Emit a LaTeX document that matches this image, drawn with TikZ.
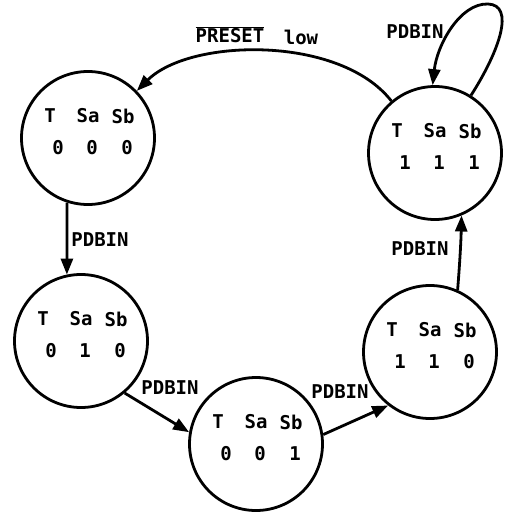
\documentclass[tikz,border=0pt]{standalone}
\usepackage{fontspec}
\setmainfont{DejaVu Sans Mono}
\usetikzlibrary{arrows.meta}
\tikzset{
  st/.style={draw, circle, line width=2.8pt, minimum size=133pt, inner sep=0pt},
  lab/.style={font=\fontsize{19}{19}\selectfont\bfseries, inner sep=0pt, anchor=center},
  arr/.style={line width=2.8pt, -{Triangle[length=16pt,width=12pt]}},
}
\newcommand\mystate[6]{%
  \node[st] (#1) at (#2,#3) {};
  \node[lab] (#1-T)  at ([shift={(-38,-22)}]#1.center) {T};
  \node[lab] (#1-Sa) at ([shift={(0,-22)}]#1.center) {Sa};
  \node[lab] (#1-Sb) at ([shift={(35,-22)}]#1.center) {Sb};
  \node[lab] (#1-a)  at ([shift={(-30,10)}]#1.center) {#4};
  \node[lab] (#1-b)  at ([shift={(4,10)}]#1.center) {#5};
  \node[lab] (#1-c)  at ([shift={(39,10)}]#1.center) {#6};
}
\begin{document}
\begin{tikzpicture}[x=1pt,y=-1pt]
\useasboundingbox (0,0) rectangle (508,516);
\mystate{s000}{88}{138}{0}{0}{0}
\mystate{s010}{81}{341}{0}{1}{0}
\mystate{s001}{256}{444}{0}{0}{1}
\mystate{s110}{430}{352}{1}{1}{0}
\mystate{s111}{435}{153}{1}{1}{1}
% edges
\draw[arr] (s111.130) .. controls (340,35) and (190,38) .. (s000.44);
\draw[arr] (s111.58) .. controls (500,50) and (515,5) .. (488,4)
  .. controls (460,3) and (437,45) .. (s111.92);
\draw[arr] (s000.252) -- (s010.102);
\draw[arr] (s010.310) -- (s001.170);
\draw[arr] (s001.8) -- (s110.232);
\draw[arr] (s110.66) .. controls (460,260) and (461,240) .. (s111.293);
% labels
\node[lab] (l1) at (230,35) {$\overline{\mbox{PRESET}}$};
\node[lab] (l2) at (301,37) {low};
\node[lab] (l3) at (415,32) {PDBIN};
\node[lab] (l4) at (100,240) {PDBIN};
\node[lab] (l5) at (170,388) {PDBIN};
\node[lab] (l6) at (340,392) {PDBIN};
\node[lab] (l7) at (420,249) {PDBIN};
\end{tikzpicture}
\end{document}
